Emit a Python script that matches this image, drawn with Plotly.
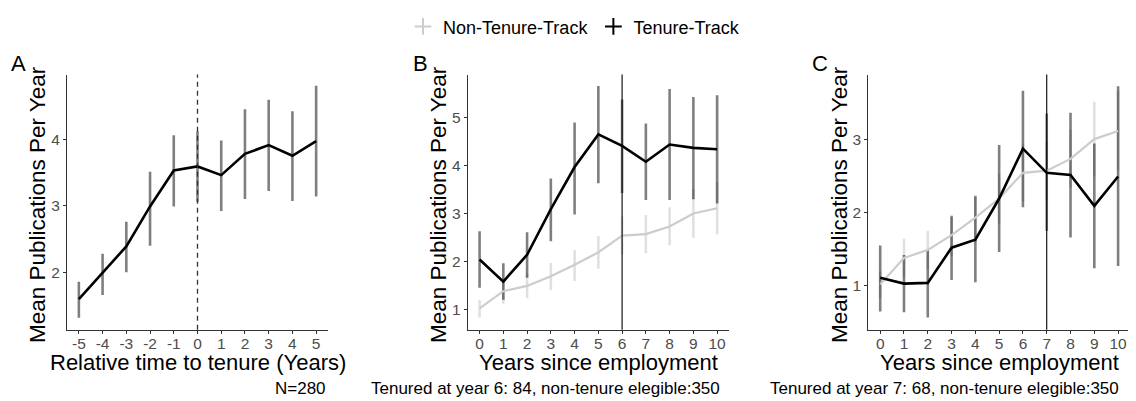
import plotly.graph_objects as go

# Panel A: relative time to tenure
A_X = [-5, -4, -3, -2, -1, 0, 1, 2, 3, 4, 5]
A_MEAN = [1.60, 1.99, 2.39, 2.99, 3.53, 3.59, 3.46, 3.78, 3.91, 3.75, 3.97]
A_LO = [1.32, 1.66, 2.00, 2.40, 2.99, 3.06, 2.92, 3.10, 3.22, 3.07, 3.14]
A_HI = [1.86, 2.28, 2.76, 3.51, 4.06, 4.12, 3.98, 4.45, 4.59, 4.42, 4.80]

# Panels B and C: years since employment
YEARS = [0, 1, 2, 3, 4, 5, 6, 7, 8, 9, 10]
NTT_MEAN = [1.02, 1.38, 1.49, 1.69, 1.93, 2.19, 2.54, 2.57, 2.73, 3.00, 3.11]
NTT_LO = [0.83, 1.12, 1.23, 1.40, 1.59, 1.85, 2.15, 2.17, 2.34, 2.49, 2.57]
NTT_HI = [1.20, 1.64, 1.75, 1.97, 2.24, 2.53, 2.94, 2.97, 3.13, 3.51, 3.66]

B_TT_MEAN = [2.04, 1.58, 2.14, 3.09, 3.97, 4.65, 4.41, 4.08, 4.44, 4.37, 4.34]
B_TT_LO = [1.45, 1.20, 1.66, 2.42, 2.98, 3.63, 3.43, 3.28, 3.28, 3.30, 3.21]
B_TT_HI = [2.63, 1.96, 2.61, 3.73, 4.90, 5.66, 5.38, 4.88, 5.60, 5.43, 5.47]

C_TT_MEAN = [1.11, 1.03, 1.04, 1.52, 1.63, 2.19, 2.87, 2.54, 2.51, 2.09, 2.49]
C_TT_LO = [0.65, 0.64, 0.57, 1.08, 1.05, 1.46, 2.07, 1.75, 1.66, 1.24, 1.27]
C_TT_HI = [1.55, 1.42, 1.49, 1.95, 2.22, 2.92, 3.66, 3.35, 3.36, 2.94, 3.72]

TENURE_YEAR_B = 6
TENURE_YEAR_C = 7

LEGEND_NAMES = ["Non-Tenure-Track", "Tenure-Track"]
Y_TITLE = "Mean Publications Per Year"
X_TITLES = ["Relative time to tenure (Years)", "Years since employment", "Years since employment"]
CAPTIONS = ["N=280", "Tenured at year 6: 84, non-tenure elegible:350",
            "Tenured at year 7: 68, non-tenure elegible:350"]

# the page body has an 8px margin, so the figure is drawn 8px smaller and offset
OFF = 8
W, H = 1136 - OFF, 401 - OFF
FONT = "Liberation Sans, Arial, Helvetica, sans-serif"
COL_TT = "#000000"
COL_NTT = "#cccccc"
BAR_TT = "rgba(0,0,0,0.5)"
BAR_NTT = "rgba(0,0,0,0.12)"
AXIS_COL = "#333333"
TICK_FONT_COL = "#4d4d4d"


def px_x(p):
    return (p - OFF) / W


def px_y(p):
    return 1 - (p - OFF) / H


def bars(x, lo, hi, ax, color):
    xs, ys = [], []
    for xi, l, h in zip(x, lo, hi):
        xs += [xi, xi, None]
        ys += [l, h, None]
    return go.Scatter(x=xs, y=ys, mode="lines", line=dict(color=color, width=2.6),
                      xaxis=ax[0], yaxis=ax[1], showlegend=False, hoverinfo="skip")


def line(x, y, ax, color, width):
    return go.Scatter(x=x, y=y, mode="lines", line=dict(color=color, width=width),
                      xaxis=ax[0], yaxis=ax[1], showlegend=False)


fig = go.Figure()

# panel A
fig.add_trace(bars(A_X, A_LO, A_HI, ("x", "y"), BAR_TT))
fig.add_trace(line(A_X, A_MEAN, ("x", "y"), COL_TT, 2.6))

# panel B
fig.add_trace(bars(YEARS, NTT_LO, NTT_HI, ("x2", "y2"), BAR_NTT))
fig.add_trace(bars(YEARS, B_TT_LO, B_TT_HI, ("x2", "y2"), BAR_TT))
fig.add_trace(line(YEARS, NTT_MEAN, ("x2", "y2"), COL_NTT, 2.2))
fig.add_trace(line(YEARS, B_TT_MEAN, ("x2", "y2"), COL_TT, 2.6))

# panel C
fig.add_trace(bars(YEARS, NTT_LO, NTT_HI, ("x3", "y3"), BAR_NTT))
fig.add_trace(bars(YEARS, C_TT_LO, C_TT_HI, ("x3", "y3"), BAR_TT))
fig.add_trace(line(YEARS, NTT_MEAN, ("x3", "y3"), COL_NTT, 2.2))
fig.add_trace(line(YEARS, C_TT_MEAN, ("x3", "y3"), COL_TT, 2.6))

# legend entries
for name, col in zip(LEGEND_NAMES, [COL_NTT, COL_TT]):
    fig.add_trace(go.Scatter(x=[None], y=[None], mode="markers", name=name,
                             marker=dict(symbol="cross-thin", size=15, line=dict(color=col, width=2.2))))

x_domains = [[px_x(67), px_x(328)], [px_x(467.7), px_x(729)], [px_x(868.3), px_x(1130)]]
y_domain = [px_y(328), px_y(66)]
x_ranges = [[-5.5, 5.5], [-0.5, 10.5], [-0.5, 10.5]]
y_ranges = [[1.137, 4.97], [0.573, 5.90], [0.40, 3.88]]
x_ticks = [A_X, YEARS, YEARS]

axis_common = dict(showline=True, linecolor=AXIS_COL, linewidth=1.1, ticks="outside", ticklen=3,
                   tickcolor=AXIS_COL, tickwidth=1.1, showgrid=False, zeroline=False,
                   tickfont=dict(family=FONT, size=15.5, color=TICK_FONT_COL))

layout_axes = {}
for i in range(3):
    sx = "" if i == 0 else str(i + 1)
    layout_axes["xaxis" + sx] = dict(domain=x_domains[i], range=x_ranges[i], anchor="y" + sx,
                                     tickmode="array", tickvals=x_ticks[i],
                                     ticktext=[str(v) for v in x_ticks[i]],
                                     ticklabelstandoff=-4, **axis_common)
    layout_axes["yaxis" + sx] = dict(domain=y_domain, range=y_ranges[i], anchor="x" + sx,
                                     dtick=1, **axis_common)

fig.update_layout(**layout_axes)

# tenure reference lines
fig.add_shape(type="line", xref="x", yref="y domain", x0=0, x1=0, y0=0, y1=1,
              line=dict(color=AXIS_COL, width=1.3, dash="5px,4px"))
fig.add_shape(type="line", xref="x2", yref="y2 domain", x0=TENURE_YEAR_B, x1=TENURE_YEAR_B, y0=0, y1=1,
              line=dict(color="#000000", width=1.1))
fig.add_shape(type="line", xref="x3", yref="y3 domain", x0=TENURE_YEAR_C, x1=TENURE_YEAR_C, y0=0, y1=1,
              line=dict(color="#000000", width=1.1))

annotations = []
panel_letters = [("A", 9), ("B", 411), ("C", 810)]
ytitle_x = [37, 438, 839]
xtitle_cx = [197.5, 598.3, 999.2]
caption_right = [328, 722, 1121]
for i in range(3):
    letter, lx = panel_letters[i]
    annotations.append(dict(text=letter, x=px_x(lx), y=px_y(55), xref="paper", yref="paper",
                            xanchor="left", yanchor="middle", showarrow=False,
                            font=dict(family=FONT, size=22, color="black")))
    annotations.append(dict(text=Y_TITLE, x=px_x(ytitle_x[i]), y=px_y(200), xref="paper", yref="paper",
                            xanchor="center", yanchor="middle", textangle=-90, showarrow=False,
                            font=dict(family=FONT, size=22.5, color="black")))
    annotations.append(dict(text=X_TITLES[i], x=px_x(xtitle_cx[i]), y=px_y(362), xref="paper", yref="paper",
                            xanchor="center", yanchor="middle", showarrow=False,
                            font=dict(family=FONT, size=22, color="black")))
    annotations.append(dict(text=CAPTIONS[i], x=px_x(caption_right[i]), y=px_y(388), xref="paper", yref="paper",
                            xanchor="right", yanchor="middle", showarrow=False,
                            font=dict(family=FONT, size=17, color="black")))

fig.update_layout(
    width=W, height=H, margin=dict(l=0, r=0, t=0, b=0),
    plot_bgcolor="white", paper_bgcolor="white",
    font=dict(family=FONT),
    annotations=annotations,
    showlegend=True,
    legend=dict(orientation="h", x=px_x(403), y=px_y(17), xanchor="left", yanchor="middle",
                font=dict(family=FONT, size=18, color="black"), bgcolor="rgba(0,0,0,0)",
                itemsizing="constant"),
)

fig.write_html("out.html")
